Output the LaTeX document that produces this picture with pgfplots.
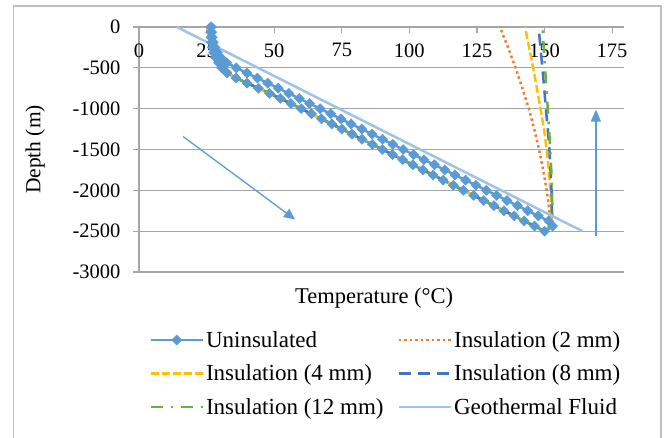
\documentclass[border=0pt]{standalone}
\usepackage{fontspec}
\setmainfont{Liberation Serif}
\usepackage{pgfplots}
\pgfplotsset{compat=1.18}
\usepackage{pgfplotstable}
\usetikzlibrary{arrows.meta}
\definecolor{cUn}{HTML}{5B9BD5}
\definecolor{cOr}{HTML}{ED7D31}
\definecolor{cYe}{HTML}{FFC000}
\definecolor{cBl}{HTML}{4472C4}
\definecolor{cGr}{HTML}{70AD47}
\definecolor{cGeo}{HTML}{9DC3E6}
\definecolor{cGrid}{HTML}{A6A6A6}
\definecolor{cFrame}{HTML}{BFBFBF}
\pgfdeclareplotmark{sqd}{%
  \pgfpathmoveto{\pgfqpoint{0pt}{\pgfplotmarksize}}%
  \pgfpathlineto{\pgfqpoint{\pgfplotmarksize}{0pt}}%
  \pgfpathlineto{\pgfqpoint{0pt}{-\pgfplotmarksize}}%
  \pgfpathlineto{\pgfqpoint{-\pgfplotmarksize}{0pt}}%
  \pgfpathclose\pgfusepathqfillstroke}

% Uninsulated: down path (rows 0-40) then up path (rows 41-81)
\pgfplotstableread{
d T
0 26.5
-62.5 26.5
-125 26.6
-187.5 26.8
-250 27.1
-312.5 27.6
-375 28.4
-437.5 29.4
-500 30.6
-562.5 32.6
-625 35.9
-687.5 40.0
-750 44.2
-812.5 48.3
-875 52.3
-937.5 56.2
-1000 60.0
-1062.5 63.8
-1125 67.5
-1187.5 71.3
-1250 75.0
-1312.5 78.8
-1375 82.5
-1437.5 86.3
-1500 90.0
-1562.5 93.8
-1625 97.5
-1687.5 101.3
-1750 105.0
-1812.5 108.8
-1875 112.5
-1937.5 116.3
-2000 120.0
-2062.5 123.8
-2125 127.5
-2187.5 131.3
-2250 135.0
-2312.5 138.8
-2375 142.5
-2437.5 146.3
-2500 150.0
-2437.5 153.0
-2375 151.5
-2312.5 147.7
-2250 143.8
-2187.5 140.0
-2125 136.1
-2062.5 132.3
-2000 128.5
-1937.5 124.6
-1875 120.8
-1812.5 116.9
-1750 113.1
-1687.5 109.3
-1625 105.4
-1562.5 101.6
-1500 97.7
-1437.5 93.9
-1375 90.1
-1312.5 86.2
-1250 82.4
-1187.5 78.5
-1125 74.7
-1062.5 70.9
-1000 67.0
-937.5 63.1
-875 59.3
-812.5 55.4
-750 51.5
-687.5 47.6
-625 43.8
-562.5 39.9
-500 36.0
-437.5 32.5
-375 30.3
-312.5 29.0
-250 28.1
-187.5 27.5
-125 27.1
-62.5 26.9
0 26.8
}\tabUn

% Insulated: return (up) paths
\pgfplotstableread{
d o y b g
-2500 150.0 150.0 150.0 150.0
-2437.5 152.5 152.7 152.8 153.0
-2250 151.8 152.5 152.7 152.9
-2000 150.8 152.2 152.6 152.8
-1750 149.5 151.6 152.2 152.5
-1500 148.0 150.8 151.8 152.1
-1250 146.2 149.8 151.2 151.7
-1000 144.2 148.5 150.5 151.2
-750 141.8 147.2 149.9 150.7
-500 139.3 145.8 149.2 150.2
-250 136.5 144.3 148.5 149.7
0 133.5 142.8 147.8 149.3
}\tabUp

\begin{document}
\begin{tikzpicture}[x=1pt,y=1pt]
\useasboundingbox (0,0) rectangle (665,438);
\draw[cFrame, line width=1.2pt] (13.5,-2) -- (13.5,432) -- (661,432) -- (661,-2);
\begin{axis}[
  at={(139pt,166pt)}, anchor=south west,
  scale only axis, width=485pt, height=245pt,
  xmin=0, xmax=179.4, ymin=-3000, ymax=0,
  clip=false,
  axis x line*=top, axis y line*=left,
  axis line style={draw=cGrid, line width=1.2pt},
  xtick={0,25,...,175}, xticklabels={0,25,50,75,100,125,150,175},
  ytick={0,-500,...,-3000},
  yticklabels={0,-500,-1000,-1500,-2000,-2500,-3000},
  tick align=inside, major tick length=6pt,
  tick style={draw=cGrid, line width=1.2pt},
  y tick style={xshift=-6pt},
  ymajorgrids, grid style={draw=cGrid, line width=1.2pt},
  xticklabel style={font=\fontsize{20.5}{24}\selectfont, anchor=north, yshift=-13pt},
  yticklabel style={font=\fontsize{20.5}{24}\selectfont, anchor=east, xshift=-15pt},
  xlabel={Temperature (°C)},
  xlabel style={at={(axis description cs:0.485,-0.106)}, anchor=center, font=\fontsize{22.5}{26}\selectfont},
  ylabel={Depth (m)},
  ylabel style={at={(axis description cs:-0.214,0.5)}, anchor=center, rotate=0, font=\fontsize{21.5}{25}\selectfont},
  legend style={at={(axis description cs:0.509,-0.225)}, anchor=north, draw=none, fill=none,
    legend columns=2, font=\fontsize{23}{27}\selectfont, nodes={inner sep=2pt}, row sep=12pt,
    /tikz/every even column/.append style={column sep=12pt}},
  legend cell align=left,
  legend image code/.code={\draw[mark repeat=2,mark phase=2,#1] plot coordinates {(0pt,0pt) (26pt,0pt) (52pt,0pt)};},
]
\addplot[cUn, line width=2.5pt, mark=sqd, mark size=5pt, mark options={fill=cUn, draw=cUn, line width=0.5pt, solid}] table[x=T, y=d] {\tabUn};
\addlegendentry{Uninsulated}
\addplot[cOr, line width=2.5pt, dash pattern=on 2.5pt off 3pt, forget plot] table[x=T, y=d, skip coords between index={41}{200}] {\tabUn};
\addplot[cOr, line width=2.5pt, dash pattern=on 2.5pt off 3pt] table[x=o, y=d] {\tabUp};
\addlegendentry{Insulation (2 mm)}
\addplot[cYe, line width=2.5pt, dash pattern=on 8pt off 3pt, forget plot] table[x=T, y=d, skip coords between index={41}{200}] {\tabUn};
\addplot[cYe, line width=2.5pt, dash pattern=on 8pt off 3pt] table[x=y, y=d] {\tabUp};
\addlegendentry{Insulation (4 mm)}
\addplot[cBl, line width=2.5pt, dash pattern=on 12pt off 7pt, forget plot] table[x=T, y=d, skip coords between index={41}{200}] {\tabUn};
\addplot[cBl, line width=2.5pt, dash pattern=on 12pt off 7pt] table[x=b, y=d] {\tabUp};
\addlegendentry{Insulation (8 mm)}
\addplot[cGr, line width=2.5pt, dash pattern=on 12pt off 8pt on 2.5pt off 8pt, forget plot] table[x=T, y=d, skip coords between index={41}{200}] {\tabUn};
\addplot[cGr, line width=2.5pt, dash pattern=on 12pt off 8pt on 2.5pt off 8pt] table[x=g, y=d] {\tabUp};
\addlegendentry{Insulation (12 mm)}
\addplot[cGeo, line width=2.5pt] coordinates {(14,0) (164,-2500)};
\addlegendentry{Geothermal Fluid}
\draw[cUn, line width=1.3pt, -{Triangle[length=11pt,width=10pt]}] (axis cs:16.3,-1341) -- (axis cs:57.7,-2356);
\draw[cUn, line width=1.3pt, -{Triangle[length=12pt,width=10pt]}] (axis cs:169,-2560) -- (axis cs:169,-1011);
\end{axis}
\end{tikzpicture}
\end{document}
